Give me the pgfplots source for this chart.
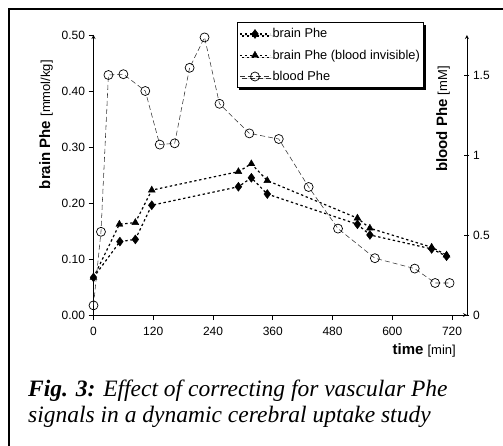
\documentclass[border=0pt]{standalone}
\usepackage{pgfplots}
\pgfplotsset{compat=1.18}
\usepackage{fontspec}
\setmainfont{Liberation Sans}
\newfontfamily\capfont{Liberation Serif}
\usetikzlibrary{shadows}

\pgfplotstableread{
t v
0 0.067
53 0.131
84 0.135
117 0.196
291 0.229
317 0.245
349 0.216
530 0.162
555 0.143
679 0.118
709 0.105
}\brain
\pgfplotstableread{
t v
0 0.067
52 0.162
84 0.165
117 0.223
291 0.256
317 0.270
349 0.240
530 0.173
555 0.155
679 0.121
709 0.107
}\braininv
\pgfplotstableread{
t v
0 0.06
15 0.52
30 1.50
60 1.505
104 1.40
133 1.065
163 1.073
193 1.545
223 1.735
253 1.32
313 1.135
372 1.10
432 0.80
491 0.54
565 0.355
645 0.29
686 0.20
715 0.20
}\blood

\newcommand\tlf{\fontsize{12}{14}\selectfont}
\newcommand\legf{\fontsize{12.8}{15}\selectfont}
\pgfplotsset{
  brainA/.style={black, line width=1.2pt, dash pattern=on 2.4pt off 2.6pt, mark=diamond*, mark size=4.5pt, mark options={solid, line width=0.4pt}},
  brainB/.style={black, line width=1.2pt, dash pattern=on 2.4pt off 2.6pt, mark=triangle*, mark size=4pt, mark options={solid, line width=0.4pt}},
  bloodS/.style={black!80, line width=0.55pt, dash pattern=on 5pt off 3pt, mark=o, mark size=4.5pt, mark options={solid, black, line width=0.7pt}},
  common/.style={
    at={(93.5pt,-315pt)}, anchor=south west,
    scale only axis, width=373.5pt, height=280pt,
    xmin=0, xmax=750, clip=false,
    axis line style={-, black, line width=0.8pt},
    tick style={black, line width=0.8pt},
    major tick length=5pt,
    tick label style={font=\tlf},
    /pgf/number format/assume math mode=true,
  }
}

\begin{document}
\begin{tikzpicture}
\path[use as bounding box] (0pt,0pt) rectangle (503pt,-446pt);
\draw[line width=2pt] (9pt,-447pt) -- (9pt,-9pt) -- (504pt,-9pt);

\begin{axis}[common,
  axis x line=bottom, axis y line=left,
  ymin=0, ymax=0.5,
  xtick={0,120,...,720},
  ytick={0,0.1,0.2,0.3,0.4,0.5},
  yticklabels={0.00,0.10,0.20,0.30,0.40,0.50},
  tick align=outside,
  xticklabel style={yshift=-4pt},
  ylabel={\fontsize{15}{17}\selectfont\bfseries brain Phe \fontsize{13}{15}\selectfont\mdseries[mmol/kg]},
  ylabel style={at={(axis description cs:-0.127,0.68)}, anchor=center},
]
\addplot[brainA] table[x=t,y=v] {\brain};
\addplot[brainB] table[x=t,y=v] {\braininv};
\end{axis}

\begin{axis}[common,
  axis x line=none, axis y line=right,
  ymin=0, ymax=1.75,
  ytick={0,0.5,1,1.5},
  yticklabels={0,0.5,1,1.5},
  tick align=center,
  ylabel={\fontsize{15}{17}\selectfont\bfseries blood Phe \fontsize{13}{15}\selectfont\mdseries[mM]},
  ylabel style={at={(axis description cs:0.936,0.70)}, anchor=center},
  legend style={at={(axis description cs:0.384,1.046)}, anchor=north west,
    draw=black, line width=0.9pt, fill=white, font=\legf,
    row sep=6.5pt, inner xsep=2pt, inner ysep=4pt,
    drop shadow={shadow xshift=2pt, shadow yshift=-2pt, fill=black, opacity=1}},
  legend cell align=left,
  legend image code/.code={\draw[mark repeat=2,mark phase=2,#1] plot coordinates {(0pt,0pt) (15pt,0pt) (30pt,0pt)};},
]
\addlegendimage{brainA}
\addlegendentry{\legf brain Phe}
\addlegendimage{brainB}
\addlegendentry{\legf brain Phe (blood invisible)}
\addplot[bloodS] table[x=t,y=v] {\blood};
\addlegendentry{\legf blood Phe}
\end{axis}

\node[anchor=base east, inner sep=0pt] at (456pt,-354pt)
  {\fontsize{15}{17}\selectfont\bfseries time \fontsize{13}{15}\selectfont\mdseries[min]};
\node[anchor=base west, inner sep=0pt, font=\fontsize{23.5}{26}\selectfont\capfont\itshape] at (28pt,-396pt)
  {{\bfseries Fig. 3:} Effect of correcting for vascular Phe};
\node[anchor=base west, inner sep=0pt, font=\fontsize{23.5}{26}\selectfont\capfont\itshape] at (28pt,-422pt)
  {signals in a dynamic cerebral uptake study};
\end{tikzpicture}
\end{document}
